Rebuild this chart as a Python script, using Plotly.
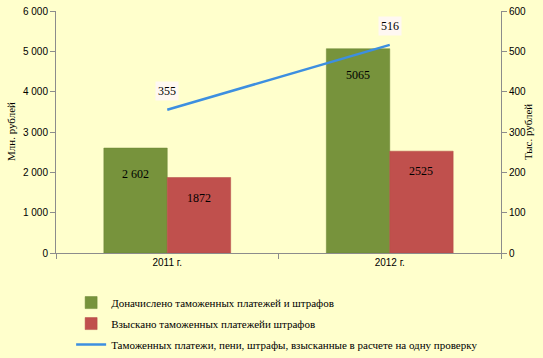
import plotly.graph_objects as go

categories = ["2011 г.", "2012 г."]
assessed = [2602, 5065]
assessed_labels = ["2 602", "5065"]
collected = [1872, 2525]
collected_labels = ["1872", "2525"]
per_check = [355, 516]
per_check_labels = ["355", "516"]

left_ticks = [0, 1000, 2000, 3000, 4000, 5000, 6000]
left_ticktext = ["0", "1 000", "2 000", "3 000", "4 000", "5 000", "6 000"]
right_ticks = [0, 100, 200, 300, 400, 500, 600]

name_assessed = "Доначислено таможенных платежей и штрафов"
name_collected = "Взыскано таможенных платежейи штрафов"
name_line = "Таможенных платежи, пени, штрафы, взысканные в расчете на одну проверку"

BG = "#FFFFCC"
FONT = "Liberation Serif, Times New Roman, serif"
GREEN = "#77933C"
RED = "#C0504D"
BLUE = "#3D8FE0"

W, H = 543, 358
ML, MR, MT, MB = 56, 42, 11, 105

fig = go.Figure()
fig.add_trace(go.Bar(x=categories, y=assessed, name=name_assessed, legendgroup="a",
                     marker=dict(color=GREEN, line=dict(color="#6A8535", width=0.5))))
fig.add_trace(go.Bar(x=categories, y=collected, name=name_collected, legendgroup="b",
                     marker=dict(color=RED, line=dict(color="#B04845", width=0.5))))
fig.add_trace(go.Scatter(x=categories, y=per_check, name=name_line, yaxis="y2",
                         legendgroup="c",
                         mode="lines", line=dict(color=BLUE, width=2.5)))

annotations = []
bar_half = 31.5
for cat, v, t in zip(categories, assessed, assessed_labels):
    annotations.append(dict(x=cat, y=v, text=t, showarrow=False, xshift=-bar_half,
                            yshift=-26, font=dict(family=FONT, size=12, color="#000")))
for cat, v, t in zip(categories, collected, collected_labels):
    annotations.append(dict(x=cat, y=v, text=t, showarrow=False, xshift=bar_half,
                            yshift=-20, font=dict(family=FONT, size=12, color="#000")))
for cat, v, t in zip(categories, per_check, per_check_labels):
    annotations.append(dict(x=cat, y=v, yref="y2", text=t, showarrow=False,
                            yshift=19, bgcolor="#FFF8F2", borderpad=2,
                            font=dict(family=FONT, size=12, color="#000")))

plot_w = W - ML - MR
plot_h = H - MT - MB
annotations.append(dict(xref="paper", yref="paper", x=(11 - ML) / plot_w, y=0.5,
                        xanchor="center", yanchor="middle",
                        text="Млн. рублей", textangle=-90, showarrow=False,
                        font=dict(family=FONT, size=11, color="#000")))
annotations.append(dict(xref="paper", yref="paper", x=(528 - ML) / plot_w, y=0.5,
                        xanchor="center", yanchor="middle",
                        text="Тыс. рублей", textangle=-90, showarrow=False,
                        font=dict(family=FONT, size=11, color="#000")))

axis_common = dict(showgrid=False, zeroline=False, showline=True, linecolor="#8C8C8C",
                   linewidth=1, ticks="outside", ticklen=5, tickcolor="#8C8C8C",
                   automargin=False,
                   tickfont=dict(family="Liberation Sans", size=10, color="#000"))

fig.update_layout(
    width=W, height=H,
    margin=dict(l=ML, r=MR, t=MT, b=MB, autoexpand=False),
    paper_bgcolor=BG, plot_bgcolor=BG,
    barmode="group", bargap=0.43, bargroupgap=0,
    font=dict(family=FONT, size=11, color="#000"),
    showlegend=True,
    legend=dict(x=0.034, y=-0.145, xanchor="left", yanchor="top",
                bgcolor="rgba(0,0,0,0)", font=dict(family=FONT, size=11),
                traceorder="grouped", tracegroupgap=2),
    xaxis=dict(**axis_common, tickson="boundaries", type="category"),
    yaxis=dict(**axis_common, range=[0, 6000], tickvals=left_ticks, ticktext=left_ticktext),
    yaxis2=dict(**axis_common, range=[0, 600], tickvals=right_ticks, overlaying="y",
                side="right"),
    annotations=annotations,
)

fig.write_html("out.html", config={"displayModeBar": False},
               post_script="document.body.style.margin='0';document.body.style.background='%s';" % BG)
